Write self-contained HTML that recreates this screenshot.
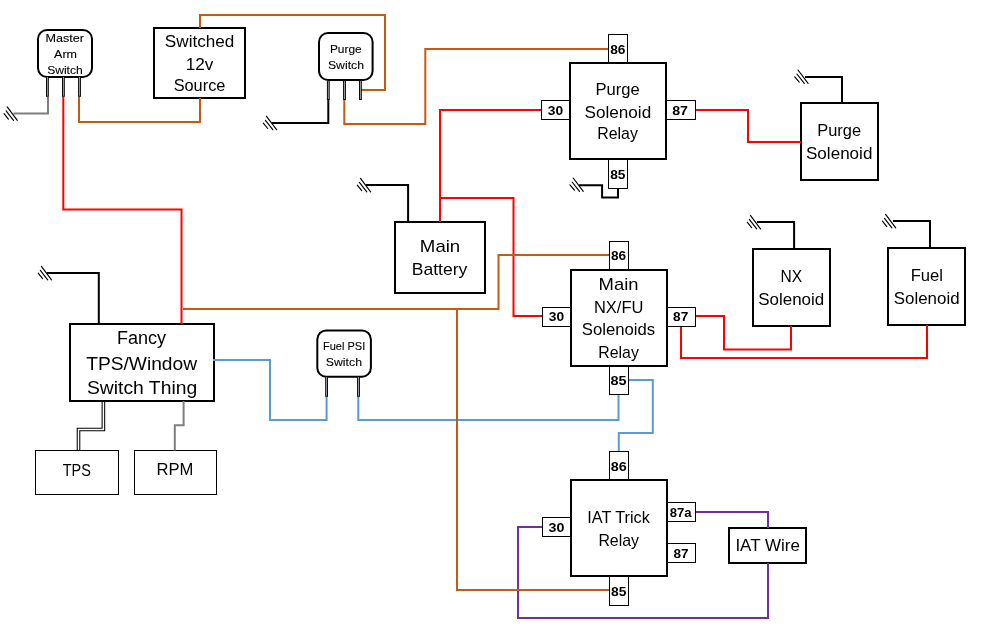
<!DOCTYPE html>
<html><head><meta charset="utf-8"><style>
html,body{margin:0;padding:0;background:#fff;width:985px;height:641px;overflow:hidden}
svg{display:block}
text{font-family:"Liberation Sans",sans-serif;fill:#000}
svg{will-change:transform}
</style></head><body>
<svg width="985" height="641" viewBox="0 0 985 641">
<rect width="985" height="641" fill="#fff"/>
<rect x="38" y="30" width="54" height="47" rx="9" fill="#fff" stroke="#000" stroke-width="2"/>
<rect x="319" y="33" width="53.6" height="47" rx="9" fill="#fff" stroke="#000" stroke-width="2"/>
<rect x="317.3" y="330.4" width="53.6" height="46.4" rx="9" fill="#fff" stroke="#000" stroke-width="2"/>
<rect x="154" y="28" width="91" height="70" rx="0" fill="#fff" stroke="#000" stroke-width="2"/>
<rect x="570" y="63" width="96" height="96" rx="0" fill="#fff" stroke="#000" stroke-width="2"/>
<rect x="801" y="103" width="77" height="77" rx="0" fill="#fff" stroke="#000" stroke-width="2"/>
<rect x="395" y="222" width="90" height="71" rx="0" fill="#fff" stroke="#000" stroke-width="2"/>
<rect x="753" y="249" width="77" height="77" rx="0" fill="#fff" stroke="#000" stroke-width="2"/>
<rect x="888" y="248" width="77" height="77" rx="0" fill="#fff" stroke="#000" stroke-width="2"/>
<rect x="571" y="270" width="96" height="96" rx="0" fill="#fff" stroke="#000" stroke-width="2"/>
<rect x="70" y="324" width="144" height="77" rx="0" fill="#fff" stroke="#000" stroke-width="2"/>
<rect x="571" y="480" width="96" height="96" rx="0" fill="#fff" stroke="#000" stroke-width="2"/>
<rect x="729" y="528" width="77" height="35" rx="0" fill="#fff" stroke="#000" stroke-width="2"/>
<rect x="35.5" y="450.5" width="83" height="44" fill="#fff" stroke="#000" stroke-width="1"/>
<rect x="134.5" y="450.5" width="82" height="44" fill="#fff" stroke="#000" stroke-width="1"/>
<path d="M63.3,97 V209.6 H181.5 V324" fill="none" stroke="#FF0000" stroke-width="2" stroke-linejoin="miter" stroke-linecap="butt"/>
<path d="M440,222 V110 H541.5" fill="none" stroke="#FF0000" stroke-width="2" stroke-linejoin="miter" stroke-linecap="butt"/>
<path d="M440,198 H513.5 V316 H542.5" fill="none" stroke="#FF0000" stroke-width="2" stroke-linejoin="miter" stroke-linecap="butt"/>
<path d="M695.5,110 H748 V142 H801" fill="none" stroke="#FF0000" stroke-width="2" stroke-linejoin="miter" stroke-linecap="butt"/>
<path d="M695.5,316 H724 V349.5 H791 V326" fill="none" stroke="#FF0000" stroke-width="2" stroke-linejoin="miter" stroke-linecap="butt"/>
<path d="M681,326.5 V358 H927 V325" fill="none" stroke="#FF0000" stroke-width="2" stroke-linejoin="miter" stroke-linecap="butt"/>
<path d="M213,360 H270 V420 H326.6 V396.8" fill="none" stroke="#5B9BD5" stroke-width="2" stroke-linejoin="miter" stroke-linecap="butt"/>
<path d="M358.3,396.8 V420 H618.5 V394.5" fill="none" stroke="#5B9BD5" stroke-width="2" stroke-linejoin="miter" stroke-linecap="butt"/>
<path d="M628.5,380 H652.8 V433 H618.8 V451.5" fill="none" stroke="#5B9BD5" stroke-width="2" stroke-linejoin="miter" stroke-linecap="butt"/>
<path d="M695.5,512 H768 V528" fill="none" stroke="#7030A0" stroke-width="2" stroke-linejoin="miter" stroke-linecap="butt"/>
<path d="M768,563 V618 H518 V527 H542.5" fill="none" stroke="#7030A0" stroke-width="2" stroke-linejoin="miter" stroke-linecap="butt"/>
<path d="M48,97 V113.6 H13.5" fill="none" stroke="#7F7F7F" stroke-width="2" stroke-linejoin="miter" stroke-linecap="butt"/>
<path d="M183.6,401 V425.2 H174.8 V450.5" fill="none" stroke="#7F7F7F" stroke-width="2" stroke-linejoin="miter" stroke-linecap="butt"/>
<path d="M103.4,401 V429.5 H78.5 V450.5" fill="none" stroke="#000" stroke-width="3.6" stroke-linejoin="miter" stroke-linecap="butt"/>
<path d="M103.4,402 V429.5 H78.5 V450" fill="none" stroke="#fff" stroke-width="1.5" stroke-linejoin="miter" stroke-linecap="butt"/>
<path d="M328.3,99.5 V123 H272" fill="none" stroke="#000000" stroke-width="2" stroke-linejoin="miter" stroke-linecap="butt"/>
<path d="M618,188.4 V197.5 H602.1 V185.2 H579" fill="none" stroke="#000000" stroke-width="2" stroke-linejoin="miter" stroke-linecap="butt"/>
<path d="M408.1,222 V185 H366" fill="none" stroke="#000000" stroke-width="2" stroke-linejoin="miter" stroke-linecap="butt"/>
<path d="M842,103.2 V77 H805" fill="none" stroke="#000000" stroke-width="2" stroke-linejoin="miter" stroke-linecap="butt"/>
<path d="M794.1,249 V222 H757" fill="none" stroke="#000000" stroke-width="2" stroke-linejoin="miter" stroke-linecap="butt"/>
<path d="M930,248.2 V221 H893" fill="none" stroke="#000000" stroke-width="2" stroke-linejoin="miter" stroke-linecap="butt"/>
<path d="M98.8,324 V273 H46.7" fill="none" stroke="#000000" stroke-width="2" stroke-linejoin="miter" stroke-linecap="butt"/>
<path d="M200,28 V15 H385 V90 H361" fill="none" stroke="#C55A11" stroke-width="2" stroke-linejoin="miter" stroke-linecap="butt"/>
<path d="M200,98 V122 H79 V97" fill="none" stroke="#C55A11" stroke-width="2" stroke-linejoin="miter" stroke-linecap="butt"/>
<path d="M344.3,99.5 V124 H425.3 V49 H608.5" fill="none" stroke="#C55A11" stroke-width="2" stroke-linejoin="miter" stroke-linecap="butt"/>
<path d="M183,309 H498.5 V255 H609" fill="none" stroke="#C55A11" stroke-width="2" stroke-linejoin="miter" stroke-linecap="butt"/>
<path d="M457,309 V590 H609.5" fill="none" stroke="#C55A11" stroke-width="2" stroke-linejoin="miter" stroke-linecap="butt"/>
<line x1="7.2" y1="106.9" x2="17.3" y2="120.30000000000001" stroke="#000" stroke-width="1.15" stroke-linecap="round"/>
<line x1="6.1000000000000005" y1="110.9" x2="13.5" y2="120.30000000000001" stroke="#000" stroke-width="1.15" stroke-linecap="round"/>
<line x1="4.0" y1="113.7" x2="8.4" y2="119.10000000000001" stroke="#000" stroke-width="1.15" stroke-linecap="round"/>
<line x1="266.5" y1="116.3" x2="276.59999999999997" y2="129.7" stroke="#000" stroke-width="1.15" stroke-linecap="round"/>
<line x1="265.4" y1="120.3" x2="272.8" y2="129.7" stroke="#000" stroke-width="1.15" stroke-linecap="round"/>
<line x1="263.3" y1="123.1" x2="267.7" y2="128.5" stroke="#000" stroke-width="1.15" stroke-linecap="round"/>
<line x1="573.1999999999999" y1="178.0" x2="583.3" y2="191.4" stroke="#000" stroke-width="1.15" stroke-linecap="round"/>
<line x1="572.1" y1="182.0" x2="579.5" y2="191.4" stroke="#000" stroke-width="1.15" stroke-linecap="round"/>
<line x1="570.0" y1="184.8" x2="574.4" y2="190.2" stroke="#000" stroke-width="1.15" stroke-linecap="round"/>
<line x1="360.5" y1="178.4" x2="370.59999999999997" y2="191.8" stroke="#000" stroke-width="1.15" stroke-linecap="round"/>
<line x1="359.4" y1="182.4" x2="366.8" y2="191.8" stroke="#000" stroke-width="1.15" stroke-linecap="round"/>
<line x1="357.3" y1="185.20000000000002" x2="361.7" y2="190.6" stroke="#000" stroke-width="1.15" stroke-linecap="round"/>
<line x1="798.0" y1="70.0" x2="808.1" y2="83.4" stroke="#000" stroke-width="1.15" stroke-linecap="round"/>
<line x1="796.9000000000001" y1="74.0" x2="804.3000000000001" y2="83.4" stroke="#000" stroke-width="1.15" stroke-linecap="round"/>
<line x1="794.8000000000001" y1="76.8" x2="799.2" y2="82.2" stroke="#000" stroke-width="1.15" stroke-linecap="round"/>
<line x1="750.4" y1="215.4" x2="760.5" y2="228.8" stroke="#000" stroke-width="1.15" stroke-linecap="round"/>
<line x1="749.3000000000001" y1="219.4" x2="756.7" y2="228.8" stroke="#000" stroke-width="1.15" stroke-linecap="round"/>
<line x1="747.2" y1="222.20000000000002" x2="751.6" y2="227.6" stroke="#000" stroke-width="1.15" stroke-linecap="round"/>
<line x1="885.5999999999999" y1="214.4" x2="895.6999999999999" y2="227.8" stroke="#000" stroke-width="1.15" stroke-linecap="round"/>
<line x1="884.5" y1="218.4" x2="891.9" y2="227.8" stroke="#000" stroke-width="1.15" stroke-linecap="round"/>
<line x1="882.4" y1="221.20000000000002" x2="886.8" y2="226.6" stroke="#000" stroke-width="1.15" stroke-linecap="round"/>
<line x1="41.4" y1="266.4" x2="51.5" y2="279.79999999999995" stroke="#000" stroke-width="1.15" stroke-linecap="round"/>
<line x1="40.300000000000004" y1="270.4" x2="47.7" y2="279.79999999999995" stroke="#000" stroke-width="1.15" stroke-linecap="round"/>
<line x1="38.2" y1="273.2" x2="42.6" y2="278.59999999999997" stroke="#000" stroke-width="1.15" stroke-linecap="round"/>
<rect x="46.0" y="77" width="2.8" height="19.799999999999997" fill="#000"/>
<rect x="46.949999999999996" y="77" width="0.9" height="18.799999999999997" fill="#aaa"/>
<rect x="62.0" y="77" width="2.8" height="19.799999999999997" fill="#000"/>
<rect x="62.949999999999996" y="77" width="0.9" height="18.799999999999997" fill="#aaa"/>
<rect x="78.1" y="77" width="2.8" height="19.799999999999997" fill="#000"/>
<rect x="79.05" y="77" width="0.9" height="18.799999999999997" fill="#aaa"/>
<rect x="326.90000000000003" y="81" width="2.8" height="19" fill="#000"/>
<rect x="327.85" y="81" width="0.9" height="18" fill="#aaa"/>
<rect x="343.1" y="81" width="2.8" height="19" fill="#000"/>
<rect x="344.05" y="81" width="0.9" height="18" fill="#aaa"/>
<rect x="359.0" y="81" width="2.8" height="19" fill="#000"/>
<rect x="359.95" y="81" width="0.9" height="18" fill="#aaa"/>
<rect x="325.20000000000005" y="377" width="2.8" height="19.80000000000001" fill="#000"/>
<rect x="326.15000000000003" y="377" width="0.9" height="18.80000000000001" fill="#aaa"/>
<rect x="357.1" y="377" width="2.8" height="19.80000000000001" fill="#000"/>
<rect x="358.05" y="377" width="0.9" height="18.80000000000001" fill="#aaa"/>
<rect x="608.5" y="34.5" width="19.0" height="28.5" fill="#fff" stroke="#000" stroke-width="1"/>
<rect x="541.5" y="100.5" width="28.5" height="19.0" fill="#fff" stroke="#000" stroke-width="1"/>
<rect x="666" y="100.5" width="29.5" height="19.0" fill="#fff" stroke="#000" stroke-width="1"/>
<rect x="608.5" y="159" width="19.0" height="29.5" fill="#fff" stroke="#000" stroke-width="1"/>
<rect x="609.5" y="241.5" width="19.0" height="28.5" fill="#fff" stroke="#000" stroke-width="1"/>
<rect x="542.5" y="307.5" width="28.5" height="19.0" fill="#fff" stroke="#000" stroke-width="1"/>
<rect x="667" y="307.5" width="28.5" height="19.0" fill="#fff" stroke="#000" stroke-width="1"/>
<rect x="609.5" y="365.5" width="19.0" height="29.0" fill="#fff" stroke="#000" stroke-width="1"/>
<rect x="609.5" y="451.5" width="19.0" height="28.5" fill="#fff" stroke="#000" stroke-width="1"/>
<rect x="542.5" y="517.5" width="28.5" height="19.0" fill="#fff" stroke="#000" stroke-width="1"/>
<rect x="667" y="502.5" width="28.5" height="19.0" fill="#fff" stroke="#000" stroke-width="1"/>
<rect x="667" y="543.5" width="28.5" height="19.0" fill="#fff" stroke="#000" stroke-width="1"/>
<rect x="609.5" y="576" width="19.0" height="29.5" fill="#fff" stroke="#000" stroke-width="1"/>
<text x="45.47" y="41.9" font-size="11" stroke="#000" stroke-width="0.1" textLength="38.48" lengthAdjust="spacingAndGlyphs">Master</text>
<text x="54.10" y="57.9" font-size="11" stroke="#000" stroke-width="0.1" textLength="22.97" lengthAdjust="spacingAndGlyphs">Arm</text>
<text x="47.15" y="73.6" font-size="11" stroke="#000" stroke-width="0.1" textLength="35.62" lengthAdjust="spacingAndGlyphs">Switch</text>
<text x="329.93" y="52.9" font-size="11" stroke="#000" stroke-width="0.1" textLength="31.76" lengthAdjust="spacingAndGlyphs">Purge</text>
<text x="327.94" y="68.7" font-size="11" stroke="#000" stroke-width="0.1" textLength="36.03" lengthAdjust="spacingAndGlyphs">Switch</text>
<text x="323.00" y="349.8" font-size="11" stroke="#000" stroke-width="0.1" textLength="42.29" lengthAdjust="spacingAndGlyphs">Fuel PSI</text>
<text x="325.84" y="365.8" font-size="11" stroke="#000" stroke-width="0.1" textLength="36.14" lengthAdjust="spacingAndGlyphs">Switch</text>
<text x="164.89" y="46.7" font-size="17" textLength="69.49" lengthAdjust="spacingAndGlyphs">Switched</text>
<text x="185.69" y="69.6" font-size="17" textLength="27.73" lengthAdjust="spacingAndGlyphs">12v</text>
<text x="173.63" y="91.0" font-size="17" textLength="51.80" lengthAdjust="spacingAndGlyphs">Source</text>
<text x="595.44" y="94.9" font-size="17" textLength="44.21" lengthAdjust="spacingAndGlyphs">Purge</text>
<text x="584.60" y="117.6" font-size="17" textLength="66.58" lengthAdjust="spacingAndGlyphs">Solenoid</text>
<text x="597.19" y="139.4" font-size="17" textLength="40.67" lengthAdjust="spacingAndGlyphs">Relay</text>
<text x="817.25" y="135.7" font-size="17" textLength="43.89" lengthAdjust="spacingAndGlyphs">Purge</text>
<text x="806.00" y="158.7" font-size="17" textLength="66.37" lengthAdjust="spacingAndGlyphs">Solenoid</text>
<text x="419.87" y="251.8" font-size="17" textLength="40.39" lengthAdjust="spacingAndGlyphs">Main</text>
<text x="411.75" y="274.9" font-size="17" textLength="55.60" lengthAdjust="spacingAndGlyphs">Battery</text>
<text x="780.52" y="282.0" font-size="17" textLength="21.67" lengthAdjust="spacingAndGlyphs">NX</text>
<text x="758.20" y="304.7" font-size="17" textLength="66.06" lengthAdjust="spacingAndGlyphs">Solenoid</text>
<text x="910.73" y="280.7" font-size="17" textLength="32.31" lengthAdjust="spacingAndGlyphs">Fuel</text>
<text x="893.80" y="303.8" font-size="17" textLength="65.75" lengthAdjust="spacingAndGlyphs">Solenoid</text>
<text x="598.58" y="289.8" font-size="17" textLength="39.96" lengthAdjust="spacingAndGlyphs">Main</text>
<text x="593.94" y="312.7" font-size="17" textLength="49.42" lengthAdjust="spacingAndGlyphs">NX/FU</text>
<text x="581.81" y="334.7" font-size="17" textLength="73.34" lengthAdjust="spacingAndGlyphs">Solenoids</text>
<text x="598.29" y="357.8" font-size="17" textLength="40.57" lengthAdjust="spacingAndGlyphs">Relay</text>
<text x="117.02" y="344.0" font-size="18.3" textLength="49.11" lengthAdjust="spacingAndGlyphs">Fancy</text>
<text x="86.18" y="369.6" font-size="18.3" textLength="110.88" lengthAdjust="spacingAndGlyphs">TPS/Window</text>
<text x="86.96" y="394.2" font-size="18.3" textLength="110.24" lengthAdjust="spacingAndGlyphs">Switch Thing</text>
<text x="62.76" y="475.5" font-size="17" textLength="28.19" lengthAdjust="spacingAndGlyphs">TPS</text>
<text x="156.43" y="475.1" font-size="17" textLength="36.91" lengthAdjust="spacingAndGlyphs">RPM</text>
<text x="587.27" y="522.7" font-size="17" textLength="62.62" lengthAdjust="spacingAndGlyphs">IAT Trick</text>
<text x="598.39" y="545.7" font-size="17" textLength="40.57" lengthAdjust="spacingAndGlyphs">Relay</text>
<text x="735.40" y="550.6" font-size="17" textLength="64.44" lengthAdjust="spacingAndGlyphs">IAT Wire</text>
<text x="610.24" y="53.8" font-size="12" font-weight="bold" textLength="15.27" lengthAdjust="spacingAndGlyphs">86</text>
<text x="547.75" y="114.6" font-size="12" font-weight="bold" textLength="15.36" lengthAdjust="spacingAndGlyphs">30</text>
<text x="672.23" y="114.6" font-size="12" font-weight="bold" textLength="15.82" lengthAdjust="spacingAndGlyphs">87</text>
<text x="610.24" y="178.6" font-size="12" font-weight="bold" textLength="15.26" lengthAdjust="spacingAndGlyphs">85</text>
<text x="611.05" y="259.8" font-size="12" font-weight="bold" textLength="15.16" lengthAdjust="spacingAndGlyphs">86</text>
<text x="548.75" y="321.4" font-size="12" font-weight="bold" textLength="15.36" lengthAdjust="spacingAndGlyphs">30</text>
<text x="673.05" y="321.0" font-size="12" font-weight="bold" textLength="15.18" lengthAdjust="spacingAndGlyphs">87</text>
<text x="610.42" y="385.0" font-size="12" font-weight="bold" textLength="16.10" lengthAdjust="spacingAndGlyphs">85</text>
<text x="610.82" y="471.0" font-size="12" font-weight="bold" textLength="16.02" lengthAdjust="spacingAndGlyphs">86</text>
<text x="548.64" y="531.6" font-size="12" font-weight="bold" textLength="15.89" lengthAdjust="spacingAndGlyphs">30</text>
<text x="669.66" y="516.6" font-size="12" font-weight="bold" textLength="21.95" lengthAdjust="spacingAndGlyphs">87a</text>
<text x="673.55" y="557.6" font-size="12" font-weight="bold" textLength="15.07" lengthAdjust="spacingAndGlyphs">87</text>
<text x="611.04" y="595.5" font-size="12" font-weight="bold" textLength="15.36" lengthAdjust="spacingAndGlyphs">85</text>
<rect x="570" y="63" width="96" height="96" fill="none" stroke="#000" stroke-width="2"/>
<rect x="571" y="270" width="96" height="96" fill="none" stroke="#000" stroke-width="2"/>
<rect x="571" y="480" width="96" height="96" fill="none" stroke="#000" stroke-width="2"/>
</svg></body></html>
